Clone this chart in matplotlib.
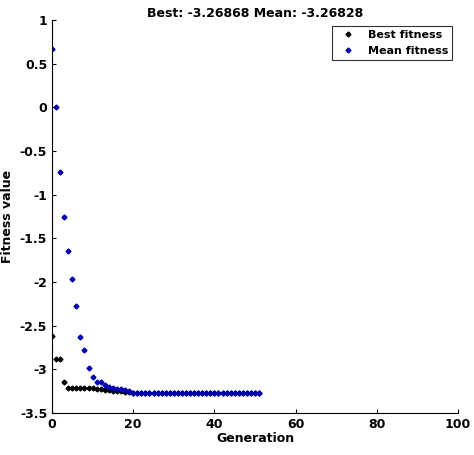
import matplotlib.pyplot as plt

generation = list(range(52))
best_fitness = [-2.62, -2.88, -2.88, -3.14, -3.21, -3.21, -3.21, -3.21, -3.21, -3.21, -3.21,
                -3.23, -3.23, -3.235, -3.24, -3.245, -3.25, -3.25, -3.255, -3.26] + [-3.2687] * 32
mean_fitness = [0.67, 0.0, -0.74, -1.25, -1.65, -1.96, -2.28, -2.63, -2.78, -2.98, -3.09,
                -3.14, -3.15, -3.18, -3.20, -3.21, -3.22, -3.23, -3.24, -3.25] + [-3.2683] * 32

fig = plt.figure(figsize=(4.74, 4.55), dpi=100)
ax = fig.add_axes([52/474, 1 - 413/455, 406/474, 393/455])
ax.plot(generation, best_fitness, 'kD', markersize=2.5, label='Best fitness')
ax.plot(generation, mean_fitness, 'D', color='#0000b0', markersize=2.5, label='Mean fitness')
ax.set_xlim(0, 100)
ax.set_ylim(-3.5, 1)
ax.set_yticks([1, 0.5, 0, -0.5, -1, -1.5, -2, -2.5, -3, -3.5])
ax.set_yticklabels(['1', '0.5', '0', '-0.5', '-1', '-1.5', '-2', '-2.5', '-3', '-3.5'])
ax.spines['top'].set_visible(False)
ax.spines['right'].set_visible(False)
ax.tick_params(labelsize=9, direction='in', length=3)
for t in ax.get_xticklabels() + ax.get_yticklabels():
    t.set_fontweight('bold')
ax.set_xlabel('Generation', fontsize=9, fontweight='bold', labelpad=1)
ax.set_ylabel('Fitness value', fontsize=9, fontweight='bold')
ax.set_title('Best: -3.26868 Mean: -3.26828', fontsize=9, fontweight='bold', pad=2)
leg = ax.legend(loc='upper right', fancybox=False, edgecolor='k',
                prop={'weight': 'bold', 'size': 8})
leg.get_frame().set_linewidth(0.8)
fig.savefig('out.png')
